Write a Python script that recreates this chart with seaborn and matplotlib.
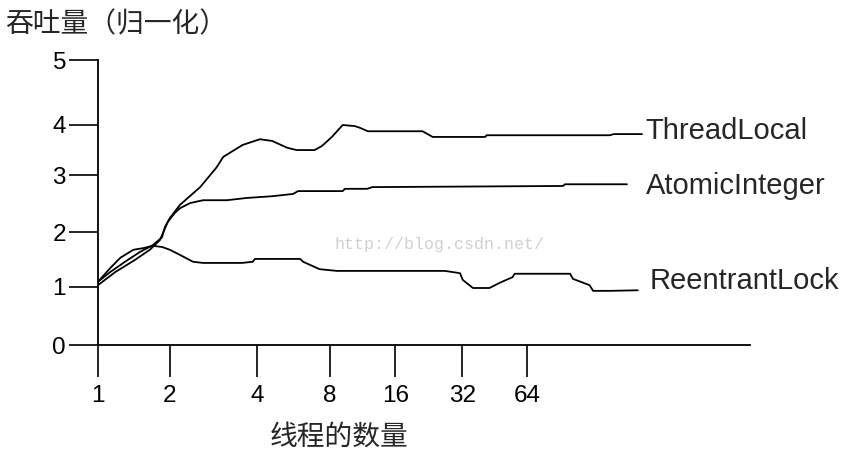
import matplotlib
matplotlib.use("Agg")
import matplotlib.pyplot as plt
import pandas as pd
import seaborn as sns

# x tick labels (thread counts) and where they sit on the hand-drawn axis
x_labels = ["1", "2", "4", "8", "16", "32", "64"]
x_pos = [0, 1.0, 2.21, 3.22, 4.13, 5.06, 5.96]
y_labels = ["0", "1", "2", "3", "4", "5"]
y_pos = [0, 1.02, 1.98, 2.98, 3.86, 5.0]

# series (axis units)
threadlocal_x = [0, 0.17, 0.375, 0.58, 0.76, 0.89, 0.93, 1.0, 1.14, 1.42, 1.65, 1.74,
                 2.01, 2.25, 2.42, 2.63, 2.76, 3.01, 3.11, 3.25, 3.40, 3.57, 3.64, 3.75,
                 4.51, 4.65, 5.38, 5.40, 7.11, 7.17, 7.56]
threadlocal_y = [1.11, 1.28, 1.46, 1.63, 1.75, 1.89, 2.07, 2.23, 2.46, 2.77, 3.12, 3.30,
                 3.51, 3.61, 3.58, 3.46, 3.42, 3.42, 3.49, 3.65, 3.86, 3.84, 3.81, 3.75,
                 3.75, 3.65, 3.65, 3.68, 3.68, 3.70, 3.70]

atomic_x = [0, 0.24, 0.51, 0.72, 0.86, 0.97, 1.07, 1.14, 1.28, 1.46, 1.79, 2.07, 2.42,
            2.71, 2.78, 3.40, 3.43, 3.74, 3.81, 6.46, 6.49, 7.35]
atomic_y = [1.05, 1.28, 1.49, 1.67, 1.84, 2.16, 2.32, 2.40, 2.49, 2.54, 2.54, 2.58, 2.61,
            2.65, 2.70, 2.70, 2.74, 2.74, 2.77, 2.79, 2.82, 2.82]

reentrant_x = [0, 0.17, 0.31, 0.49, 0.63, 0.76, 0.89, 1.0, 1.14, 1.32, 1.46, 2.0, 2.15,
               2.18, 2.81, 2.85, 3.08, 3.32, 4.82, 5.03, 5.07, 5.21, 5.44, 5.58, 5.76,
               5.79, 6.56, 6.60, 6.83, 6.88, 7.11, 7.5]
reentrant_y = [1.11, 1.35, 1.53, 1.67, 1.70, 1.74, 1.72, 1.67, 1.58, 1.46, 1.44, 1.44,
               1.46, 1.51, 1.51, 1.46, 1.33, 1.30, 1.30, 1.26, 1.14, 1.00, 1.00, 1.09,
               1.19, 1.25, 1.25, 1.16, 1.05, 0.95, 0.95, 0.96]

names = ["ThreadLocal", "AtomicInteger", "ReentrantLock"]

df = pd.concat([
    pd.DataFrame({"x": threadlocal_x, "y": threadlocal_y, "series": names[0]}),
    pd.DataFrame({"x": atomic_x, "y": atomic_y, "series": names[1]}),
    pd.DataFrame({"x": reentrant_x, "y": reentrant_y, "series": names[2]}),
])

sns.set_style("white")
plt.rcParams["font.family"] = ["Liberation Sans", "Noto Sans CJK SC", "DejaVu Sans"]

fig = plt.figure(figsize=(8.65, 4.72), dpi=100)
ax = fig.add_axes([98 / 865, 127 / 472, 652 / 865, 285 / 472])

sns.lineplot(data=df, x="x", y="y", hue="series", palette=["black"] * 3,
             estimator=None, legend=False, linewidth=1.3, ax=ax)

ax.set_xlim(0, 9.06)
ax.set_ylim(0, 5)
ax.set_xticks(x_pos, x_labels)
ax.set_yticks(y_pos, y_labels)
ax.set_xlabel("")
ax.set_ylabel("")
sns.despine(ax=ax)
for s in ["left", "bottom"]:
    ax.spines[s].set_color("black")
    ax.spines[s].set_linewidth(1.3)
ax.tick_params(axis="x", bottom=True, direction="out", length=23, width=1.2, pad=6,
               labelsize=17.5, colors="black")
ax.tick_params(axis="y", left=True, direction="out", length=21, width=1.2, pad=2,
               labelsize=17.5, colors="black")

# series labels at the line ends
ax.text(7.6, 3.75, "ThreadLocal", fontsize=21, va="center", ha="left")
ax.text(7.62, 2.79, "AtomicInteger", fontsize=21, va="center", ha="left")
ax.text(7.67, 1.12, "ReentrantLock", fontsize=21, va="center", ha="left")

fig.text(5 / 865, 1 - 24 / 472, "吞吐量（归一化）", fontsize=20, va="center", ha="left",
         family=["Noto Sans CJK SC", "DejaVu Sans"])
fig.text(339 / 865, 1 - 437 / 472, "线程的数量", fontsize=20, va="center", ha="center",
         family=["Noto Sans CJK SC", "DejaVu Sans"])
fig.text(335 / 865, 1 - 245 / 472, "http://blog.csdn.net/", fontsize=12, va="center",
         ha="left", color="#d0d0d0", family=["Liberation Mono", "DejaVu Sans Mono"])

fig.savefig("out.png", dpi=100)
